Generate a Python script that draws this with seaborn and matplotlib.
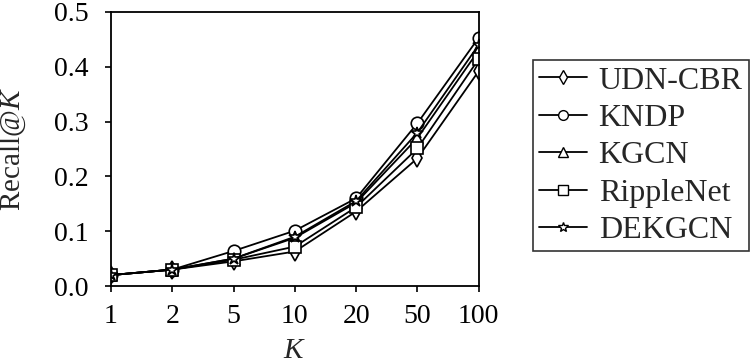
import pandas as pd
import seaborn as sns
import matplotlib.pyplot as plt

# Recall@K values
k_labels = ['1', '2', '5', '10', '20', '50', '100']
udn_cbr = [0.020, 0.030, 0.045, 0.063, 0.136, 0.233, 0.392]
kndp = [0.020, 0.030, 0.064, 0.101, 0.160, 0.297, 0.453]
kgcn = [0.020, 0.030, 0.050, 0.088, 0.152, 0.270, 0.430]
ripplenet = [0.020, 0.030, 0.048, 0.072, 0.144, 0.251, 0.414]
dekgcn = [0.020, 0.030, 0.050, 0.090, 0.155, 0.280, 0.440]

series = {'UDN-CBR': udn_cbr, 'KNDP': kndp, 'KGCN': kgcn,
          'RippleNet': ripplenet, 'DEKGCN': dekgcn}
rows = []
for name, vals in series.items():
    for i, v in enumerate(vals):
        rows.append({'pos': i, 'recall': v, 'model': name})
df = pd.DataFrame(rows)

sns.set_style('ticks')
plt.rcParams['font.family'] = ['Liberation Serif', 'DejaVu Serif']
plt.rcParams['mathtext.fontset'] = 'custom'
plt.rcParams['mathtext.rm'] = 'Liberation Serif'
plt.rcParams['mathtext.it'] = 'Liberation Serif:italic'

fig = plt.figure(figsize=(7.55, 3.63), dpi=100)
ax = fig.add_axes([0.147, 0.212, 0.487, 0.755])

markers = {'UDN-CBR': 'd', 'KNDP': 'o', 'KGCN': '^', 'RippleNet': 's', 'DEKGCN': '*'}
palette = {n: 'black' for n in series}
sns.lineplot(data=df, x='pos', y='recall', hue='model', style='model',
             markers=markers, dashes=False, palette=palette, ax=ax,
             markerfacecolor='white', markeredgecolor='black',
             markersize=9, markeredgewidth=1.2, linewidth=1.3)

ax.set_xlim(0, 6)
ax.set_ylim(0, 0.5)
ax.set_xticks(range(len(k_labels)))
ax.set_xticklabels(k_labels)
ax.set_yticks([0, 0.1, 0.2, 0.3, 0.4, 0.5])
ax.set_yticklabels(['0.0', '0.1', '0.2', '0.3', '0.4', '0.5'])
ax.tick_params(labelsize=20, direction='out', length=4, width=1.2, colors='black')
ax.tick_params(axis='x', pad=9)
ax.tick_params(axis='y', pad=12)
for s in ax.spines.values():
    s.set_linewidth(1.3)
    s.set_color('black')
ax.set_xlabel('$K$', fontsize=21)
ax.xaxis.set_label_coords(0.5, -0.19)
ax.set_ylabel('Recall@$K$', fontsize=21)
ax.yaxis.set_label_coords(-0.225, 0.5)

handles, labels = ax.get_legend_handles_labels()
for h in handles:
    h.set_markersize(7)
    h.set_markeredgewidth(1.0)
leg = ax.legend(handles, labels, loc='upper right', bbox_to_anchor=(0.992, 0.835),
                bbox_transform=fig.transFigure, frameon=True, fancybox=False,
                edgecolor='black', fontsize=23, handlelength=1.5,
                handletextpad=0.35, labelspacing=0.25, borderpad=0.2,
                borderaxespad=0)
leg.get_frame().set_linewidth(1.2)

fig.savefig('out.png', dpi=100)
